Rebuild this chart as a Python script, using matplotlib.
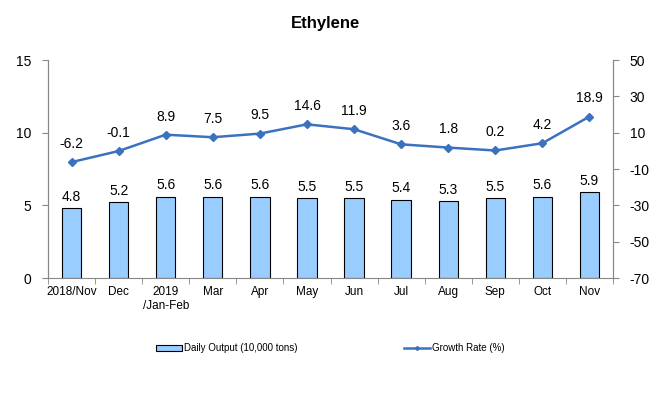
import matplotlib
matplotlib.use("Agg")
import matplotlib.pyplot as plt
import numpy as np
from matplotlib.patches import Patch
from matplotlib.lines import Line2D

plt.rcParams['font.family'] = ['Liberation Sans', 'DejaVu Sans']
plt.rcParams['axes.unicode_minus'] = False

categories = ["2018/Nov", "Dec", "2019\n/Jan-Feb", "Mar", "Apr", "May", "Jun", "Jul", "Aug", "Sep", "Oct", "Nov"]
daily_output = [4.8, 5.2, 5.6, 5.6, 5.6, 5.5, 5.5, 5.4, 5.3, 5.5, 5.6, 5.9]
growth_rate = [-6.2, -0.1, 8.9, 7.5, 9.5, 14.6, 11.9, 3.6, 1.8, 0.2, 4.2, 18.9]
left_ticks = [0, 5, 10, 15]
right_ticks = [-70, -50, -30, -10, 10, 30, 50]

bar_color = "#99CCFF"
line_color = "#3A72C0"
axis_color = "#888888"

fig = plt.figure(figsize=(6.65, 3.95), dpi=100)
ax = fig.add_axes([0.0722, 0.2962, 0.8496, 0.5518])
ax2 = ax.twinx()

x = np.arange(len(categories))
ax.bar(x, daily_output, width=0.41, color=bar_color, edgecolor="black", linewidth=0.8, zorder=2)
for xi, v in zip(x, daily_output):
    ax.annotate(f"{v:.1f}", (xi, v), xytext=(0, 3), textcoords="offset points",
                ha="center", va="bottom", fontsize=10)

ax2.plot(x, growth_rate, color=line_color, linewidth=1.8, marker="D", markersize=4.5, zorder=3)
for xi, v in zip(x, growth_rate):
    ax2.annotate(f"{v:.1f}", (xi, v), xytext=(0, 8), textcoords="offset points",
                 ha="center", va="bottom", fontsize=10)

ax.set_xlim(-0.5, len(categories) - 0.5)
ax.set_ylim(0, 15)
ax2.set_ylim(-70, 50)
ax.set_yticks(left_ticks)
ax2.set_yticks(right_ticks)
ax.set_xticks(x)
ax.set_xticklabels(categories, fontsize=8.5)
ax.set_xticks(np.arange(-0.5, len(categories)), minor=True)
ax.tick_params(axis="x", which="major", length=0, pad=6)
ax.tick_params(axis="x", which="minor", length=4, color=axis_color, direction="out")
ax.tick_params(axis="y", length=4, color=axis_color, labelsize=10, pad=8)
ax2.tick_params(axis="y", length=4, color=axis_color, labelsize=10, pad=8)

for a in (ax, ax2):
    a.spines["top"].set_visible(False)
    for s in ("left", "right", "bottom"):
        a.spines[s].set_color(axis_color)
ax2.spines["bottom"].set_visible(False)

fig.text(0.49, 0.94, "Ethylene", ha="center", va="center", fontsize=12, fontweight="bold")

handles = [Patch(facecolor=bar_color, edgecolor="black", linewidth=0.8),
           Line2D([0], [0], color=line_color, linewidth=1.8, marker="D", markersize=2)]
fig.legend(handles, ["Daily Output (10,000 tons)", "Growth Rate (%)"], loc="center",
           bbox_to_anchor=(0.497, 0.118), ncol=2, frameon=False, fontsize=7,
           columnspacing=11, handlelength=2.6, handleheight=0.6, handletextpad=0.25)

fig.savefig("out.png", dpi=100)
